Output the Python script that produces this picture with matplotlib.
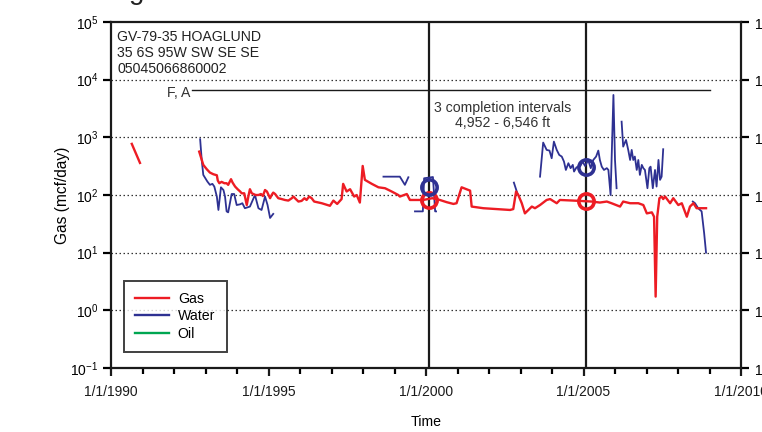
import numpy as np
import matplotlib
matplotlib.use("Agg")
import matplotlib.pyplot as plt
from matplotlib.ticker import FixedLocator, FuncFormatter, LogLocator, NullFormatter

plt.rcParams['font.family'] = ['Liberation Sans', 'DejaVu Sans']
plt.rcParams['mathtext.fontset'] = 'custom'
plt.rcParams['mathtext.rm'] = 'Liberation Sans'
plt.rcParams['mathtext.default'] = 'regular'

nan = np.nan

# ---- data (decimal years, mcf/day or bbl/day) ----
gas_years = [1990.66, 1990.92, nan,
             1992.80, 1992.93, 1993.04, 1993.14, 1993.25, 1993.36, 1993.39, 1993.44, 1993.51,
             1993.60, 1993.67, 1993.72, 1993.81, 1993.86, 1993.94, 1994.02, 1994.10, 1994.15,
             1994.23, 1994.31, 1994.36, 1994.41, 1994.47, 1994.52, 1994.59, 1994.68, 1994.76,
             1994.82, 1994.89, 1994.95, 1995.05, 1995.10, 1995.15, 1995.21, 1995.31, 1995.42,
             1995.52, 1995.63, 1995.74, 1995.79, 1995.84, 1995.95, 1996.05, 1996.14, 1996.21,
             1996.29, 1996.37, 1996.45, 1996.69, 1996.95, 1997.06, 1997.18, 1997.32, 1997.37,
             1997.48, 1997.59, 1997.72, 1997.80, 1997.90, 1997.99, 1998.06, 1998.28, 1998.49,
             1998.70, 1998.91, 1999.12, 1999.17, 1999.39, 1999.49, 1999.70, 1999.91, 2000.20,
             2000.44, 2000.66, 2000.87, 2000.97, 2001.13, 2001.40, 2001.45, 2001.82, 2002.24,
             2002.67, 2002.77, 2002.86, 2002.93, 2003.04, 2003.14, 2003.25, 2003.36, 2003.46,
             2003.62, 2003.83, 2003.94, 2004.15, 2004.25, 2004.68, 2005.26, 2005.52, 2005.74,
             2005.89, 2006.16, 2006.26, 2006.48, 2006.74, 2006.90, 2007.01, 2007.17, 2007.24,
             2007.29, 2007.34, 2007.41, 2007.48, 2007.53, 2007.59, 2007.75, 2007.85, 2008.01,
             2008.12, 2008.28, 2008.38, 2008.49, 2008.59, 2008.70, 2008.89]
gas_values = [770, 360, nan,
              565, 333, 280, 245, 229, 220, 178, 160, 169,
              160, 160, 150, 188, 164, 140, 126, 115, 107,
              107, 67, 94, 126, 107, 104, 100, 100, 104,
              96, 122, 115, 88, 100, 110, 104, 88, 85,
              82, 80, 88, 94, 88, 77, 79, 88, 82,
              94, 88, 77, 72, 65, 80, 70, 85, 156,
              115, 126, 94, 100, 74, 319, 183, 156, 136,
              131, 115, 100, 94, 104, 82, 82, 82, 88,
              82, 75, 70, 72, 136, 119, 63, 59, 57,
              55, 57, 115, 100, 72, 48, 55, 63, 59,
              67, 82, 85, 72, 82, 80, 77, 74, 77,
              72, 63, 77, 72, 72, 67, 48, 50, 42,
              1.73, 42, 88, 94, 85, 94, 72, 88, 67,
              72, 42, 63, 72, 59, 59, 59]

water_years = [1992.83, 1992.88, 1992.93, 1993.06, 1993.14, 1993.22, 1993.28, 1993.36, 1993.41,
               1993.49, 1993.57, 1993.62, 1993.67, 1993.72, 1993.83, 1993.91, 1993.99, 1994.10,
               1994.17, 1994.25, 1994.41, 1994.57, 1994.68, 1994.78, 1994.89, 1994.97, 1995.05,
               1995.15, nan,
               1998.65, 1999.17, 1999.33, 1999.44, nan,
               1999.65, 1999.90, 1999.94, 2000.22, 2000.29, 2000.32, nan,
               2002.79, 2002.90, nan,
               2003.62, 2003.72, 2003.83, 2003.92, 2003.99, 2004.06, 2004.15, 2004.23, 2004.31,
               2004.38, 2004.44, 2004.52, 2004.59, 2004.66, 2004.70, 2004.78, 2004.89, 2004.97,
               2005.05, 2005.15, 2005.23, 2005.31, 2005.40, 2005.47, 2005.52, 2005.58, 2005.65,
               2005.74, 2005.79, 2005.86, 2005.95, 2006.00, 2006.05, nan,
               2006.21, 2006.26, 2006.35, 2006.42, 2006.48, 2006.53, 2006.58, 2006.63, 2006.69,
               2006.74, 2006.79, 2006.85, 2006.90, 2006.95, 2007.03, 2007.09, 2007.13, 2007.20,
               2007.27, 2007.32, 2007.38, 2007.43, 2007.48, 2007.53, nan,
               2008.47, 2008.54, 2008.64, 2008.75, 2008.83, 2008.89]
water_values = [927, 405, 223, 171, 150, 156, 140, 94, 55,
                136, 122, 94, 52, 50, 104, 104, 67, 69,
                72, 59, 63, 100, 59, 55, 94, 67, 40,
                47, nan,
                208, 208, 150, 203, nan,
                52, 52, 195, 205, 52, 52, nan,
                164, 107, nan,
                208, 811, 605, 589, 434, 843, 605, 495, 464,
                380, 272, 356, 292, 333, 255, 303, 310, 380,
                319, 405, 292, 405, 464, 589, 405, 310, 272,
                292, 272, 100, 5430, 405, 131, nan,
                1870, 690, 901, 605, 405, 605, 405, 464, 272,
                405, 223, 333, 292, 272, 131, 292, 310, 131,
                272, 140, 405, 183, 208, 622, nan,
                77, 72, 59, 52, 21.8, 10]

oil_years = []
oil_values = []

circle_years = [2000.10, 2005.08]
circle_gas = [82, 80]
circle_water = [138, 303]

completion_years = [2000.10, 2005.08]
interval_top = 4952
interval_bottom = 6546
fa_line_years = [1992.57, 2009.02]

xtick_years = [1990, 1995, 2000, 2005, 2010]

RED = '#ED1C24'
BLUE = '#2E3192'
GREEN = '#00A651'

fig = plt.figure(figsize=(7.62, 4.32), dpi=100)
ax = fig.add_axes([111/762, 1 - 368/432, 630/762, 346/432])

ax.set_yscale('log')
ax.set_ylim(0.1, 1e5)
ax.set_xlim(1990, 2010)

# grid lines at decades
for e in range(0, 5):
    ax.axhline(10.0**e, color='#333333', linestyle=(0, (1.2, 2.0)), linewidth=0.9, zorder=1)

# completion vertical lines
for cy in completion_years:
    ax.axvline(cy, color='#1a1a1a', linewidth=1.6, zorder=2)

# F, A line at the bottom of the completion interval depth
ax.plot(fa_line_years, [interval_bottom, interval_bottom], color='#1a1a1a', linewidth=1.0, zorder=2)
ax.text(fa_line_years[0] - 0.05, interval_bottom * 0.88, 'F, A', ha='right', va='center',
        fontsize=10.2, color='#333333')

ax.text(2002.42, 2400, '3 completion intervals\n%s - %s ft' % (format(interval_top, ','), format(interval_bottom, ',')),
        ha='center', va='center', fontsize=10.2, color='#333333', linespacing=1.15)

ax.text(0.010, 0.978, 'GV-79-35 HOAGLUND\n35 6S 95W SW SE SE\n05045066860002',
        transform=ax.transAxes, ha='left', va='top', fontsize=10.2, color='#222222', linespacing=1.2)

gl, = ax.plot(gas_years, gas_values, color=RED, linewidth=1.7, zorder=4, label='Gas')
wl, = ax.plot(water_years, water_values, color=BLUE, linewidth=1.3, zorder=3, label='Water')
ol, = ax.plot(oil_years, oil_values, color=GREEN, linewidth=1.7, zorder=3, label='Oil')

ax.plot(circle_years, circle_gas, 'o', markersize=11, markerfacecolor='none',
        markeredgecolor=RED, markeredgewidth=2.6, zorder=5)
ax.plot(circle_years, circle_water, 'o', markersize=11, markerfacecolor='none',
        markeredgecolor=BLUE, markeredgewidth=2.6, zorder=5)

leg = ax.legend(handles=[gl, wl, ol], loc='upper left', bbox_to_anchor=(13/630, 1 - 259/346),
                fontsize=10.2, frameon=True, fancybox=False, edgecolor='#111111',
                handlelength=2.4, handletextpad=0.6, borderpad=0.8, labelspacing=0.22,
                borderaxespad=0)
leg.get_frame().set_linewidth(1.4)
for h in leg.get_lines():
    h.set_linewidth(1.7)

# axes styling
for s in ax.spines.values():
    s.set_linewidth(1.6)
    s.set_color('#1a1a1a')

ax.xaxis.set_major_locator(FixedLocator(xtick_years))
ax.xaxis.set_minor_locator(FixedLocator(list(range(1990, 2011))))
ax.xaxis.set_major_formatter(FuncFormatter(lambda v, p: '1/1/%d' % int(round(v))))
ax.tick_params(axis='x', which='major', direction='out', length=6, width=1.6, labelsize=10,
               colors='#1a1a1a', pad=6)
ax.tick_params(axis='x', which='minor', direction='out', length=4, width=1.6)

ax.yaxis.set_major_locator(LogLocator(base=10, numticks=10))
ax.yaxis.set_minor_formatter(NullFormatter())
ax.yaxis.set_minor_locator(FixedLocator([]))
ax.yaxis.set_major_formatter(FuncFormatter(lambda v, p: '$10^{%d}$' % int(round(np.log10(v)))))
ax.tick_params(axis='y', which='major', direction='out', length=6, width=1.6, labelsize=10,
               right=True, labelright=True, pad=3)

ax.set_ylabel('Gas (mcf/day)', fontsize=11.2, labelpad=0)
ax.set_xlabel('Time', fontsize=10.2, labelpad=12)

# partial title glyph cut at the top edge
fig.text(129/762, 1 + 1/432, 'g', fontsize=20, ha='left', va='baseline', color='#222222')

fig.savefig('out.png', dpi=100)
